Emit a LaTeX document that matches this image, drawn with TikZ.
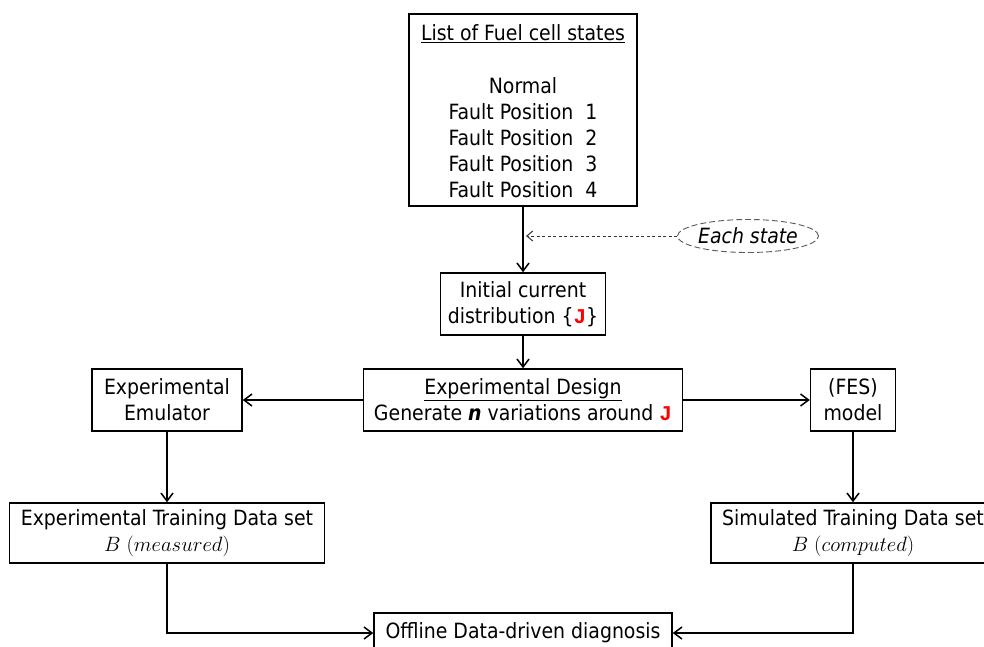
\documentclass[tikz,border=0pt]{standalone}
\usepackage{fontspec}
\setmainfont{DejaVu Sans Condensed}
\setmonofont{Liberation Mono}
\usepackage{xcolor}
\usepackage{tikz}
\usetikzlibrary{shapes.geometric,arrows.meta}

\newcommand{\redJ}{\textcolor{red}{\texttt{\textbf{J}}}}

\begin{document}
\begin{tikzpicture}[x=1pt,y=-1pt,
    every node/.style={font=\fontsize{21}{26}\selectfont},
    box/.style={draw,line width=1.5pt,inner sep=0pt,align=center},
    link/.style={line width=1.5pt,-{Straight Barb[length=8pt,width=12pt]}}]
    \useasboundingbox (0,0) rectangle (984,646);

    % list of states
    \node[box,minimum width=228,minimum height=192] (states) at (523,110) {};
    \node (title) at (523,34) {\underline{List of Fuel cell states}};
    \node (normal) at (523,86) {Normal};
    \foreach \i in {1,...,4} {
        \node (fp\i) at (523,86+26*\i) {Fault Position~~\i};
    }

    \node[box,minimum width=165,minimum height=62] (initial) at (523,304)
        {Initial current\\distribution \{\redJ\}};
    \node[draw=black!65,dashed,dash pattern=on 6pt off 3pt,line width=0.9pt,
        ellipse,minimum width=140,minimum height=33,inner sep=0pt] (each) at (748,236)
        {\itshape Each state};
    \coordinate (hit) at (526,236);

    \node[box,minimum width=319,minimum height=62] (design) at (523,400)
        {\underline{Experimental Design}\\Generate \textbf{\textit{n}} variations around \redJ};
    \node[box,minimum width=150,minimum height=62] (emul) at (167,400)
        {Experimental\\Emulator};
    \node[box,minimum width=85,minimum height=62] (fes) at (853,400)
        {(FES)\\model};

    \node[box,minimum width=315,minimum height=60] (exptrain) at (167,533)
        {Experimental Training Data set\\$B\ (measured)$};
    \node[box,minimum width=284,minimum height=60] (simtrain) at (853,533)
        {Simulated Training Data set\\$B\ (computed)$};

    \node[box,minimum width=298,minimum height=40] (offline) at (523,633)
        {Offline Data-driven diagnosis};

    \draw[link] (states) -- (initial);
    \draw[black!80,line width=1pt,dash pattern=on 3pt off 2.5pt,
        -{Straight Barb[length=6pt,width=10pt]}] (each) -- (hit);
    \draw[link] (initial) -- (design);
    \draw[link] (design) -- (emul);
    \draw[link] (design) -- (fes);
    \draw[link] (emul) -- (exptrain);
    \draw[link] (fes) -- (simtrain);
    \draw[link] (exptrain.south) |- (offline.west);
    \draw[link] (simtrain.south) |- (offline.east);
\end{tikzpicture}
\end{document}
